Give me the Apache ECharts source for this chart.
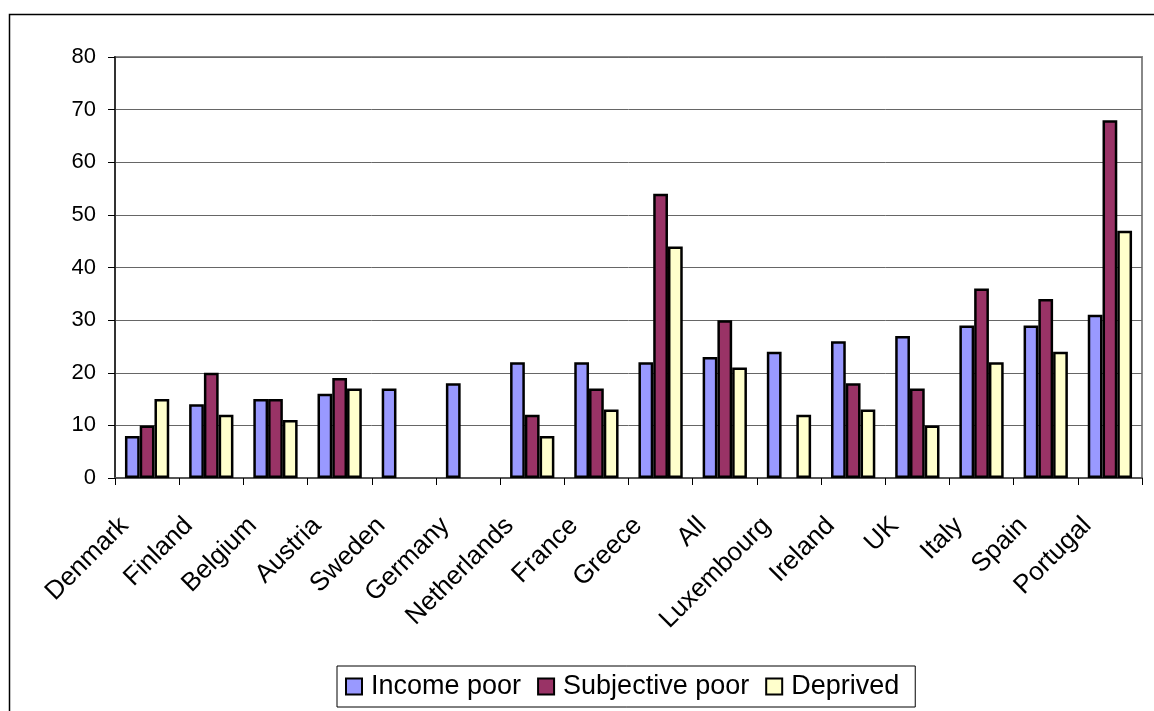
<!DOCTYPE html>
<html><head><meta charset="utf-8">
<script src="https://cdn.jsdelivr.net/npm/echarts@6/dist/echarts.min.js"></script>
<style>html,body{margin:0;padding:0;background:#fff}#c{width:1154px;height:711px}</style>
</head><body><div id="c"></div>
<script>
const categories = ["Denmark","Finland","Belgium","Austria","Sweden","Germany","Netherlands","France","Greece","All","Luxembourg","Ireland","UK","Italy","Spain","Portugal"];
const incomePoor = [8,14,15,16,17,18,22,22,22,23,24,26,27,29,29,31];
const subjectivePoor = [10,20,15,19,null,null,12,17,54,30,null,18,17,36,34,68];
const deprived = [15,12,11,17,null,null,8,13,44,21,12,13,10,22,24,47];
const seriesNames = ["Income poor","Subjective poor","Deprived"];
const colors = ["#9999FF","#993366","#FFFFCC"];
const yTicks = {min:0, max:80, interval:10};

const chart = echarts.init(document.getElementById('c'), null, {renderer:'canvas'});
const font = 'Liberation Sans, Arial, sans-serif';
const mk = (name, data, color) => ({
  name, type:'bar', data,
  barGap:'0%', barCategoryGap:'31%',
  itemStyle:{color, borderColor:'#000', borderWidth:2.5},
  emphasis:{disabled:true}
});
chart.setOption({
  animation:false,
  textStyle:{fontFamily:font},
  graphic:[{type:'rect', shape:{x:9.5,y:14.5,width:1170,height:730}, style:{fill:'none',stroke:'#000',lineWidth:1.5}, silent:true, z:-1}],
  grid:{left:115, right:12, top:57, bottom:233, show:true, borderColor:'#888', borderWidth:2},
  xAxis:{type:'category', data:categories,
    axisLine:{lineStyle:{color:'#555', width:2}},
    axisTick:{show:true, length:7, lineStyle:{color:'#000'}},
    axisLabel:{rotate:45, fontSize:26, color:'#000', margin:21, interval:0, fontFamily:font, padding:[0,32,0,0]}},
  yAxis:{type:'value', min:yTicks.min, max:yTicks.max, interval:yTicks.interval,
    axisLine:{show:true, lineStyle:{color:'#333', width:2}},
    axisTick:{show:true, length:7, lineStyle:{color:'#000'}},
    axisLabel:{fontSize:22, color:'#000', margin:19, fontFamily:font},
    splitLine:{lineStyle:{color:'#666', width:1}}},
  legend:{data:seriesNames, left:337, top:666, orient:'horizontal',
    borderColor:'#000', borderWidth:1, padding:[7,16,7,8], itemGap:16,
    itemWidth:16, itemHeight:16, icon:'rect',
    itemStyle:{borderColor:'#000', borderWidth:2},
    textStyle:{fontSize:27, color:'#000', fontFamily:font, padding:[0,0,0,4]}},
  series:[mk(seriesNames[0], incomePoor, colors[0]), mk(seriesNames[1], subjectivePoor, colors[1]), mk(seriesNames[2], deprived, colors[2])]
});
</script></body></html>
